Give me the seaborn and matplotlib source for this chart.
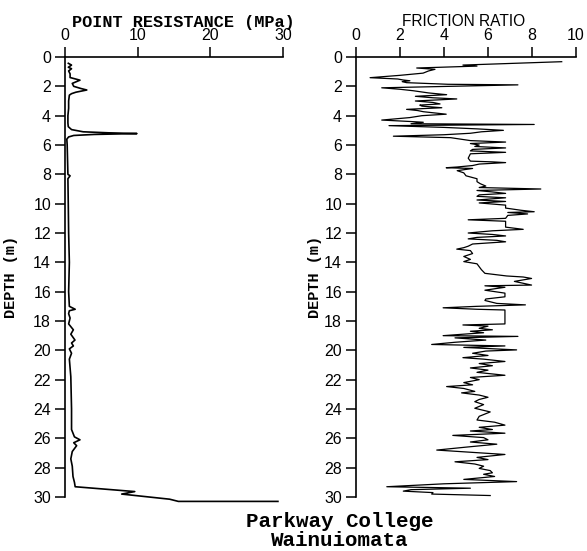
import matplotlib
matplotlib.use("Agg")
import matplotlib.pyplot as plt
import seaborn as sns
import pandas as pd

# Point resistance (MPa) vs depth (m)
qc_depth = [0.43, 0.55, 0.7, 0.8, 0.95, 1.15, 1.4, 1.58, 1.8, 2.0, 2.15, 2.25, 2.4, 2.5, 2.6,
            3.0, 3.5, 4.0, 4.5, 4.75, 4.95, 5.1, 5.17, 5.22, 5.28, 5.35, 5.45, 5.6, 6.0, 7.0,
            8.0, 8.1, 8.3, 10.0, 12.0, 14.0, 16.0, 17.0, 17.2, 17.3, 17.5, 17.8, 18.2, 18.6,
            18.9, 19.3, 19.5, 19.7, 19.9, 20.2, 20.6, 21.8, 24.0, 25.4, 25.9, 26.1, 26.3, 26.5,
            26.9, 27.4, 27.9, 28.6, 29.0, 29.3, 29.63, 29.8, 30.15, 30.3, 30.3]
qc_value = [0.46, 0.9, 0.46, 0.9, 0.5, 0.7, 0.7, 2.06, 1.0, 1.2, 2.2, 3.0, 1.5, 0.9, 0.6,
            0.5, 0.5, 0.4, 0.4, 0.45, 0.9, 2.5, 6.0, 9.9, 4.0, 1.2, 0.5, 0.25, 0.3, 0.35,
            0.4, 0.7, 0.4, 0.45, 0.5, 0.6, 0.5, 0.6, 1.4, 0.6, 0.5, 0.7, 0.5, 1.15,
            0.8, 1.37, 0.9, 1.15, 0.6, 0.9, 0.6, 0.8, 0.9, 0.9, 1.3, 2.06, 1.2, 1.6,
            1.0, 0.8, 1.0, 1.1, 1.3, 1.4, 9.6, 7.8, 14.4, 15.6, 29.3]

# Friction ratio vs depth (m)
fr_depth = [0.32, 0.45, 0.55, 0.62, 0.75, 0.84, 0.95, 1.1, 1.25, 1.41, 1.5, 1.57, 1.62, 1.68, 1.75,
            1.86, 1.9, 2.0, 2.1, 2.2, 2.3, 2.45, 2.57, 2.68, 2.78, 2.86, 3.0, 3.1, 3.2, 3.28,
            3.35, 3.46, 3.57, 3.65, 3.73, 3.9, 4.0, 4.13, 4.3, 4.4, 4.45, 4.55, 4.6, 4.65, 4.68,
            4.8, 4.9, 5.0, 5.1, 5.2, 5.3, 5.4, 5.5, 5.7, 5.75, 5.8, 5.9, 6.0, 6.1, 6.2,
            6.3, 6.4, 6.5, 6.6, 6.9, 7.1, 7.15, 7.2, 7.3, 7.4, 7.5, 7.55, 7.6, 7.75, 7.9,
            8.1, 8.3, 8.5, 8.64, 8.8, 8.9, 9.0, 9.1, 9.2, 9.3, 9.4, 9.5, 9.6, 9.75, 9.85,
            9.95, 10.1, 10.3, 10.45, 10.55, 10.6, 10.7, 10.8, 11.0, 11.1, 11.2, 11.6, 11.75, 11.85,
            12.0, 12.1, 12.2, 12.3, 12.4, 12.5, 12.6, 12.75, 12.9, 13.0, 13.1, 13.2, 13.4, 13.6,
            13.8, 13.95, 14.1, 14.5, 14.75, 14.93, 15.0, 15.1, 15.3, 15.55, 15.6, 15.7, 15.9,
            16.1, 16.35, 16.5, 16.6, 16.8, 16.9, 17.0, 17.1, 17.2, 17.25, 18.2, 18.27, 18.35,
            18.5, 18.6, 18.7, 18.8, 19.0, 19.05, 19.15, 19.3, 19.45, 19.6, 19.7, 19.8, 19.97,
            20.05, 20.2, 20.35, 20.5, 20.6, 20.76, 20.9, 21.05, 21.2, 21.35, 21.5, 21.7, 21.85,
            22.0, 22.2, 22.35, 22.47, 22.6, 22.8, 22.9, 23.05, 23.2, 23.35, 23.5, 23.7, 23.95,
            24.2, 24.5, 24.75, 24.9, 25.1, 25.25, 25.4, 25.5, 25.65, 25.8, 25.95, 26.1, 26.25,
            26.4, 26.6, 26.8, 26.95, 27.1, 27.3, 27.45, 27.6, 27.75, 27.9, 28.05, 28.2, 28.35,
            28.45, 28.6, 28.8, 28.95, 29.1, 29.3, 29.4, 29.5, 29.6, 29.7, 29.8, 29.9]
fr_value = [9.35, 6.8, 4.86, 5.5, 2.76, 3.59, 3.3, 3.05, 2.0, 0.64, 1.9, 2.15, 2.45, 2.1, 2.3,
            4.18, 7.36, 4.2, 1.17, 2.0, 2.6, 3.3, 4.12, 2.7, 3.5, 4.58, 2.7, 3.5, 3.82, 2.9,
            3.0, 3.9, 2.3, 2.8, 3.06, 4.1, 3.0, 2.45, 1.17, 2.5, 3.06, 2.5, 8.1, 3.7, 1.5,
            4.0, 5.5, 6.7, 5.7, 5.2, 4.0, 1.7, 4.3, 5.2, 6.0, 6.8, 5.2, 5.6, 5.4, 6.8,
            5.3, 5.2, 6.8, 5.2, 5.1, 5.2, 6.2, 6.8, 5.6, 5.3, 4.6, 4.1, 5.3, 4.6, 4.9,
            5.0, 5.5, 5.5, 5.65, 5.9, 5.6, 8.4, 5.5, 6.2, 6.8, 5.6, 5.5, 6.8, 5.5, 6.8,
            5.6, 6.8, 6.8, 7.5, 8.1, 6.9, 7.8, 6.9, 6.8, 5.1, 6.8, 6.8, 7.6, 6.2,
            5.1, 6.2, 6.8, 5.5, 5.1, 6.4, 6.8, 5.3, 5.1, 4.9, 4.58, 5.2, 5.3, 4.9,
            5.2, 4.9, 5.5, 5.7, 5.86, 6.85, 7.6, 7.98, 7.2, 7.98, 5.86, 6.77, 5.86,
            6.77, 6.77, 5.9, 5.86, 6.4, 7.7, 5.5, 3.96, 5.5, 6.77, 6.77, 4.86, 6.0,
            5.6, 6.2, 5.2, 5.8, 3.96, 7.36, 4.5, 5.9, 4.5, 3.44, 6.77, 4.9, 7.3,
            5.9, 5.3, 6.0, 4.86, 5.8, 6.77, 5.6, 6.2, 5.2, 6.0, 5.5, 6.77, 5.2,
            5.6, 4.9, 5.3, 4.12, 4.9, 5.4, 4.8, 5.6, 6.0, 5.6, 5.4, 5.8, 5.4,
            6.1, 5.6, 5.5, 6.3, 6.77, 5.6, 6.2, 5.2, 6.77, 4.4, 5.8, 6.0, 5.2,
            6.4, 5.0, 3.67, 5.2, 6.77, 5.5, 6.0, 4.5, 5.4, 5.8, 5.6, 6.1, 6.2,
            5.8, 6.3, 4.9, 7.3, 4.0, 1.4, 5.2, 2.5, 2.15, 3.5, 3.44, 6.1]

qc_ticks = [0, 10, 20, 30]
fr_ticks = [0, 2, 4, 6, 8, 10]
depth_ticks = list(range(0, 31, 2))

df_qc = pd.DataFrame({"depth": qc_depth, "qc": qc_value})
df_fr = pd.DataFrame({"depth": fr_depth, "fr": fr_value})

W, H = 587, 551
fig = plt.figure(figsize=(W / 100, H / 100), dpi=100)
ax1 = fig.add_axes([65 / W, 1 - 497 / H, 218 / W, 440 / H])
ax2 = fig.add_axes([356 / W, 1 - 497 / H, 220 / W, 440 / H])

sans = ["Liberation Sans", "DejaVu Sans"]
mono = ["Liberation Mono", "DejaVu Sans Mono"]

sns.lineplot(data=df_qc, x="qc", y="depth", sort=False, estimator=None, ax=ax1,
             color="black", linewidth=1.2, clip_on=False)
sns.lineplot(data=df_fr, x="fr", y="depth", sort=False, estimator=None, ax=ax2,
             color="black", linewidth=0.9, clip_on=False)

for ax, xmax, xt in [(ax1, 30, qc_ticks), (ax2, 10, fr_ticks)]:
    ax.set_xlim(0, xmax)
    ax.set_ylim(30, 0)
    ax.spines["right"].set_visible(False)
    ax.spines["bottom"].set_visible(False)
    ax.spines["top"].set_linewidth(1.2)
    ax.spines["left"].set_linewidth(1.2)
    ax.xaxis.tick_top()
    ax.set_xticks(xt)
    ax.set_yticks(depth_ticks)
    ax.tick_params(axis="both", direction="out", length=7, width=1.1, pad=3,
                   labelsize=11.5)
    for lab in ax.get_xticklabels() + ax.get_yticklabels():
        lab.set_family(sans)
    ax.set_xlabel("")
    ax.set_ylabel("")
    ax.patch.set_alpha(0)

fig.text(183 / W, 1 - 22 / H, "POINT RESISTANCE (MPa)", ha="center", va="center",
         family=mono, fontsize=12.2, fontweight="bold")
fig.text(464 / W, 1 - 22 / H, "FRICTION RATIO", ha="center", va="center",
         family=sans, fontsize=11.2)
fig.text(11 / W, 1 - 277 / H, "DEPTH (m)", ha="center", va="center", rotation=90,
         family=mono, fontsize=11, fontweight="bold")
fig.text(315 / W, 1 - 277 / H, "DEPTH (m)", ha="center", va="center", rotation=90,
         family=mono, fontsize=11, fontweight="bold")
fig.text(340 / W, 1 - 527 / H, "Parkway College", ha="center", va="baseline",
         family=mono, fontsize=15, fontweight="bold")
fig.text(340 / W, 1 - 546 / H, "Wainuiomata", ha="center", va="baseline",
         family=mono, fontsize=15, fontweight="bold")

fig.savefig("out.png", dpi=100)
